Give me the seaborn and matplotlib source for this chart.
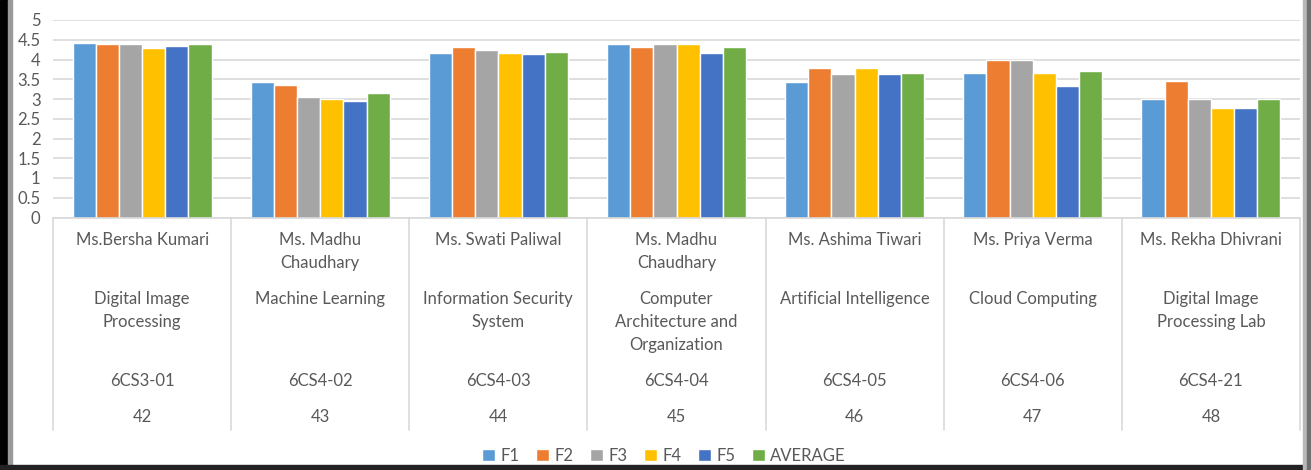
import numpy as np
import pandas as pd
import seaborn as sns
import matplotlib.pyplot as plt
from matplotlib.patches import Rectangle

# category levels
teachers = ["Ms.Bersha Kumari", "Ms. Madhu\nChaudhary", "Ms. Swati Paliwal", "Ms. Madhu\nChaudhary",
            "Ms. Ashima Tiwari", "Ms. Priya Verma", "Ms. Rekha Dhivrani"]
subjects = ["Digital Image\nProcessing", "Machine Learning", "Information Security\nSystem",
            "Computer\nArchitecture and\nOrganization", "Artificial Intelligence", "Cloud Computing",
            "Digital Image\nProcessing Lab"]
codes = ["6CS3-01", "6CS4-02", "6CS4-03", "6CS4-04", "6CS4-05", "6CS4-06", "6CS4-21"]
numbers = ["42", "43", "44", "45", "46", "47", "48"]

# feedback scores
f1 = [4.42, 3.42, 4.17, 4.39, 3.42, 3.66, 2.99]
f2 = [4.39, 3.35, 4.32, 4.32, 3.79, 3.98, 3.45]
f3 = [4.39, 3.04, 4.23, 4.39, 3.63, 3.98, 2.99]
f4 = [4.29, 3.00, 4.17, 4.39, 3.79, 3.66, 2.78]
f5 = [4.35, 2.95, 4.14, 4.17, 3.63, 3.32, 2.78]
average = [4.38, 3.16, 4.19, 4.32, 3.66, 3.70, 3.00]

series = ["F1", "F2", "F3", "F4", "F5", "AVERAGE"]
colors = ["#5B9BD5", "#ED7D31", "#A5A5A5", "#FFC000", "#4472C4", "#70AD47"]

rows = []
for name, vals in zip(series, [f1, f2, f3, f4, f5, average]):
    for num, v in zip(numbers, vals):
        rows.append({"num": num, "series": name, "score": v})
df = pd.DataFrame(rows)

sns.set_style("white")
plt.rcParams['font.family'] = ['Lato', 'DejaVu Sans']
txt = "#595959"
grid = "#d9d9d9"

W, H = 1311, 470
fig = plt.figure(figsize=(W / 100, H / 100), dpi=100)
x0, x1, ytop, ybot = 53, 1300, 20, 217.5
ax = fig.add_axes([x0 / W, 1 - ybot / H, (x1 - x0) / W, (ybot - ytop) / H])

sns.barplot(data=df, x="num", y="score", hue="series", palette=colors, order=numbers,
            hue_order=series, width=0.78, saturation=1, edgecolor="white", linewidth=1, ax=ax)

ax.set_xlim(-0.5, 6.5)
ax.set_ylim(0, 5)
ax.set_yticks(np.arange(0, 5.01, 0.5))
ax.set_yticklabels(["0", "0.5", "1", "1.5", "2", "2.5", "3", "3.5", "4", "4.5", "5"])
ax.yaxis.grid(True, color=grid, lw=1.2)
ax.set_axisbelow(True)
ax.tick_params(axis="y", length=0, pad=9, labelsize=12, labelcolor=txt)
ax.tick_params(axis="x", length=0, labelbottom=False)
ax.set_xlabel("")
ax.set_ylabel("")
for s in ax.spines.values():
    s.set_visible(False)

# multi-level category axis
def fy(py):
    return (ybot - py) / (ybot - ytop)

tr = ax.get_xaxis_transform()
ax.plot([-0.5, 6.5], [0, 0], color=grid, lw=1.2, transform=tr, clip_on=False)
for b in np.arange(-0.5, 7, 1):
    ax.plot([b, b], [0, fy(430)], color=grid, lw=1.2, transform=tr, clip_on=False)

for i in range(len(numbers)):
    kw = dict(transform=tr, ha="center", color=txt, fontsize=12, linespacing=1.55, clip_on=False)
    ax.text(i, fy(232), teachers[i], va="top", **kw)
    ax.text(i, fy(291), subjects[i], va="top", **kw)
    ax.text(i, fy(381), codes[i], va="center", **kw)
    ax.text(i, fy(417), numbers[i], va="center", **kw)

leg = ax.legend(loc="center", bbox_to_anchor=(0.49, fy(456)), ncol=6, frameon=False,
                handlelength=0.75, handleheight=0.75, handletextpad=0.35, columnspacing=1.0,
                fontsize=12, labelcolor=txt)

# screenshot frame
fig.patches.append(Rectangle((0, 0), 8 / W, 1, transform=fig.transFigure, color="black", zorder=10))
fig.patches.append(Rectangle((8 / W, 0), 4 / W, 1, transform=fig.transFigure, color="#9a9a9a", zorder=10))
fig.patches.append(Rectangle((0, 0), 1, 5 / H, transform=fig.transFigure, color="#222222", zorder=10))
fig.patches.append(Rectangle((1303 / W, 0), 8 / W, 1, transform=fig.transFigure, color="#b8b8b8", zorder=10))
fig.patches.append(Rectangle((1307 / W, 0), 4 / W, 1, transform=fig.transFigure, color="#707070", zorder=10))

fig.savefig("out.png", dpi=100)
